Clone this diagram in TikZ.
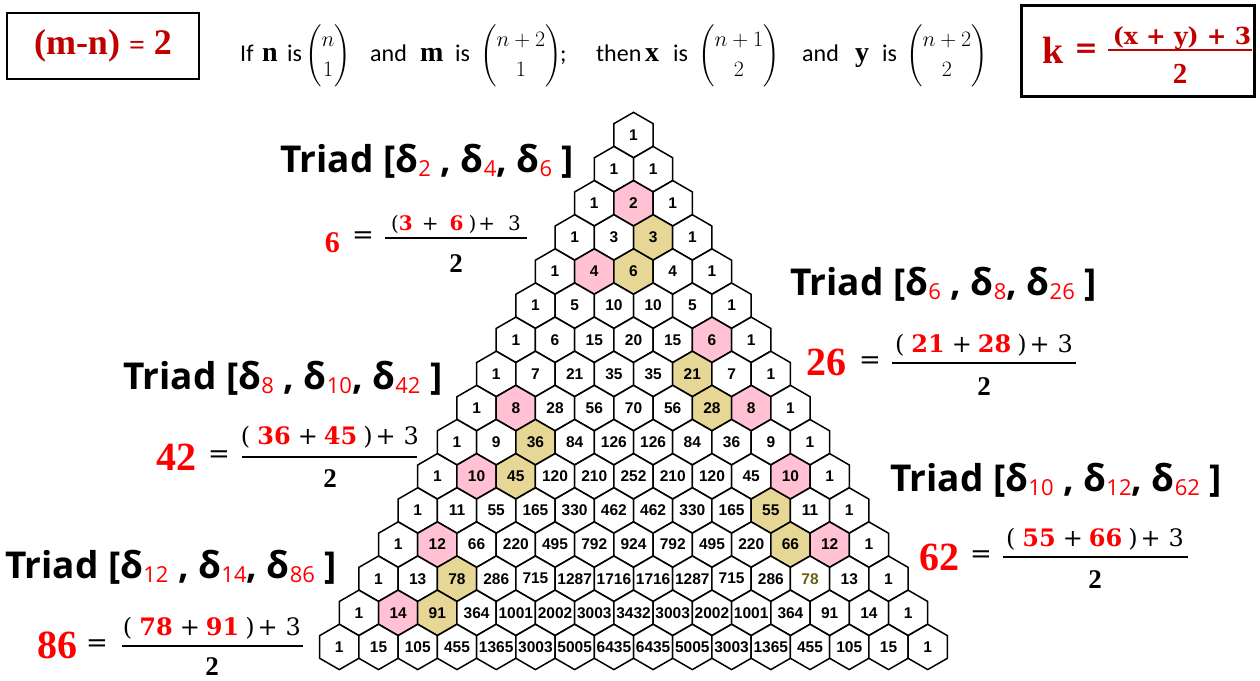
\RequirePackage{fix-cm}
\documentclass[tikz,border=0pt]{standalone}
\usepackage{amsmath}
\usepackage{fontspec}
\setmainfont{Liberation Serif}
\newfontfamily\osans{Open Sans}
\newfontfamily\carlito{Carlito}
\newfontfamily\dserif{DejaVu Serif}
\newfontfamily\cellfont{Liberation Sans}
\usetikzlibrary{shapes.geometric}
\definecolor{dred}{HTML}{C00000}
\definecolor{pinkc}{HTML}{FFC1D3}
\definecolor{tanc}{HTML}{E6D796}
\definecolor{olivec}{HTML}{6B6010}
\newcommand\sbr[1]{\raisebox{-4pt}{\fontsize{22}{22}\selectfont\mdseries\color{red}#1}}
\newcommand\rb[1]{{\bfseries\color{red}#1}}
\newcommand\numL[2]{(\hspace{7pt}\rb{#1}\hspace{7pt}+\hspace{6pt}\rb{#2}\hspace{6pt})\hspace{3pt}+\hspace{8pt}3}
\begin{document}
\begin{tikzpicture}[x=1pt,y=-1pt,
  hexcell/.style={regular polygon, regular polygon sides=6, shape border rotate=30,
    minimum size=45.3pt, inner sep=0pt, draw=black, line width=1.5pt, fill=white},
  celltext/.style={inner sep=0pt, font=\cellfont\bfseries\fontsize{15.5}{16}\selectfont},
  pk/.style={fill=pinkc}, tn/.style={fill=tanc}, ol/.style={text=olivec},
  c2-1/.style={pk}, c4-1/.style={pk}, c6-5/.style={pk}, c8-1/.style={pk}, c8-7/.style={pk},
  c10-1/.style={pk}, c10-9/.style={pk}, c12-1/.style={pk}, c12-11/.style={pk}, c14-1/.style={pk},
  c3-2/.style={tn}, c4-2/.style={tn}, c7-5/.style={tn}, c8-6/.style={tn}, c9-2/.style={tn},
  c10-2/.style={tn}, c11-9/.style={tn}, c12-10/.style={tn}, c13-2/.style={tn}, c14-2/.style={tn},
  t13-11/.style={ol},
  triad/.style={font=\osans\bfseries\fontsize{37}{40}\selectfont, inner sep=0pt, anchor=base west},
  bignum/.style={font=\rmfamily\bfseries\fontsize{40}{44}\selectfont, text=red, inner sep=0pt, anchor=base east},
  bignumS/.style={font=\rmfamily\bfseries\fontsize{30}{34}\selectfont, text=red, inner sep=0pt, anchor=base east},
  eqs/.style={font=\dserif\fontsize{26}{30}\selectfont, inner sep=0pt},
  numL/.style={font=\dserif\fontsize{24}{28}\selectfont, inner sep=0pt, anchor=base},
  numS/.style={font=\dserif\fontsize{20}{24}\selectfont, inner sep=0pt, anchor=base},
  den/.style={font=\rmfamily\bfseries\fontsize{27}{30}\selectfont, inner sep=0pt, anchor=base},
  bar/.style={line width=1.8pt},
  box/.style={draw=black, line width=2pt, inner sep=0pt},
  hdr/.style={font=\carlito\fontsize{24}{26}\selectfont, inner sep=0pt, anchor=base west},
  hdb/.style={font=\rmfamily\bfseries\fontsize{28}{30}\selectfont, inner sep=0pt, anchor=base west},
  hbn/.style={font=\fontsize{22}{26}\selectfont, inner sep=0pt, anchor=base west}
]
\useasboundingbox[fill=white] (0,0) rectangle (1260,680);

% left box
\node[box, minimum width=192pt, minimum height=66pt] (lbox) at (103,45.5) {};
\node[font=\bfseries\fontsize{36}{40}\selectfont, text=dred, inner sep=0pt] (mn) at (103,46) {(m-n) {\fontsize{28}{30}\selectfont=} 2};

% header sentence
\node[hdr] (h1) at (240,61) {If};
\node[hdb] (h2) at (262,61) {n};
\node[hdr] (h3) at (287,61) {is};
\node[hbn] (h4) at (305,61) {$\dbinom{n}{1}$};
\node[hdr] (h5) at (370,61) {and};
\node[hdb] (h6) at (420,61) {m};
\node[hdr] (h7) at (455,61) {is};
\node[hbn] (h8) at (480,61) {$\dbinom{n+2}{1}$};
\node[hdr] (h9) at (560,61) {;};
\node[hdr] (h10) at (596,61) {then};
\node[hdb] (h11) at (645,61) {x};
\node[hdr] (h12) at (673,61) {is};
\node[hbn] (h13) at (698,61) {$\dbinom{n+1}{2}$};
\node[hdr] (h14) at (802,61) {and};
\node[hdb] (h15) at (855,61) {y};
\node[hdr] (h16) at (882,61) {is};
\node[hbn] (h17) at (906,61) {$\dbinom{n+2}{2}$};

% right box
\node[box, line width=2.4pt, minimum width=233pt, minimum height=91pt] (rbox) at (1138,51) {};
\node[font=\rmfamily\bfseries\fontsize{38}{40}\selectfont, text=dred, inner sep=0pt, anchor=base east] (kk) at (1064,63) {k};
\node[font=\dserif\bfseries\fontsize{28}{30}\selectfont, text=dred, inner sep=0pt] (ke) at (1086,51) {=};
\node[font=\dserif\bfseries\fontsize{23.5}{28}\selectfont, text=dred, inner sep=0pt, anchor=base] (kn) at (1182,44) {(x + y) + 3};
\coordinate (kb1) at (1108,50); \coordinate (kb2) at (1252,50);
\draw[dred, line width=2.4pt] (kb1) -- (kb2);
\node[font=\rmfamily\bfseries\fontsize{29}{30}\selectfont, text=dred, inner sep=0pt, anchor=base] (kd) at (1180,83) {2};

% Pascal triangle: shapes
\foreach \r in {0,...,15}{
  \foreach \k in {0,...,\r}{
    \node[hexcell, c\r-\k/.try] (c\r-\k) at ({633.5+(\k-\r/2)*39.23}, {135+\r*34.13}) {};
  }
}
% Pascal triangle: numbers
\foreach \r in {0,...,15}{
  \gdef\cval{1}
  \foreach \k in {0,...,\r}{
    \node[celltext, t\r-\k/.try] (t\r-\k) at (c\r-\k.center) {\cval};
    \xdef\cval{\the\numexpr\cval*(\r-\k)/(\k+1)\relax}
  }
}

% Triad labels
\node[triad] (tr1) at (280,172) {Triad [δ\sbr{2} , δ\sbr{4}, δ\sbr{6} ]};
\node[triad] (tr2) at (790,295) {Triad [δ\sbr{6} , δ\sbr{8}, δ\sbr{26} ]};
\node[triad] (tr3) at (123,389) {Triad [δ\sbr{8} , δ\sbr{10}, δ\sbr{42} ]};
\node[triad] (tr4) at (890,491) {Triad [δ\sbr{10} , δ\sbr{12}, δ\sbr{62} ]};
\node[triad] (tr5) at (5,578) {Triad [δ\sbr{12} , δ\sbr{14}, δ\sbr{86} ]};

% formula 1
\node[bignumS] (n1) at (340,252) {6};
\node[eqs] (e1) at (363,238) {=};
\node[numS] (u1) at (456,230) {(\rb{3}\hspace{9pt}+\hspace{11pt}\rb{6}\hspace{5pt})\hspace{2pt}+\hspace{13pt}3};
\coordinate (a1) at (385,238); \coordinate (b1) at (527,238);
\draw[bar] (a1) -- (b1);
\node[den] (d1) at (456,272) {2};

% formula 2
\node[bignum] (n2) at (847,375) {26};
\node[eqs] (e2) at (870,363) {=};
\node[numL] (u2) at (984,352) {\numL{21}{28}};
\coordinate (a2) at (892,363); \coordinate (b2) at (1076,363);
\draw[bar] (a2) -- (b2);
\node[den] (d2) at (984,395) {2};

% formula 3
\node[bignum] (n3) at (197,470) {42};
\node[eqs] (e3) at (219,457) {=};
\node[numL] (u3) at (330,444) {\numL{36}{45}};
\coordinate (a3) at (242,457); \coordinate (b3) at (417,457);
\draw[bar] (a3) -- (b3);
\node[den] (d3) at (330,487) {2};

% formula 4
\node[bignum] (n4) at (960,570) {62};
\node[eqs] (e4) at (981,557) {=};
\node[numL] (u4) at (1095,546) {\numL{55}{66}};
\coordinate (a4) at (1003,557); \coordinate (b4) at (1188,557);
\draw[bar] (a4) -- (b4);
\node[den] (d4) at (1095,588) {2};

% formula 5
\node[bignum] (n5) at (78,658) {86};
\node[eqs] (e5) at (97,646) {=};
\node[numL] (u5) at (212,635) {\numL{78}{91}};
\coordinate (a5) at (122,646); \coordinate (b5) at (303,646);
\draw[bar] (a5) -- (b5);
\node[den] (d5) at (212,675) {2};
\end{tikzpicture}
\end{document}
